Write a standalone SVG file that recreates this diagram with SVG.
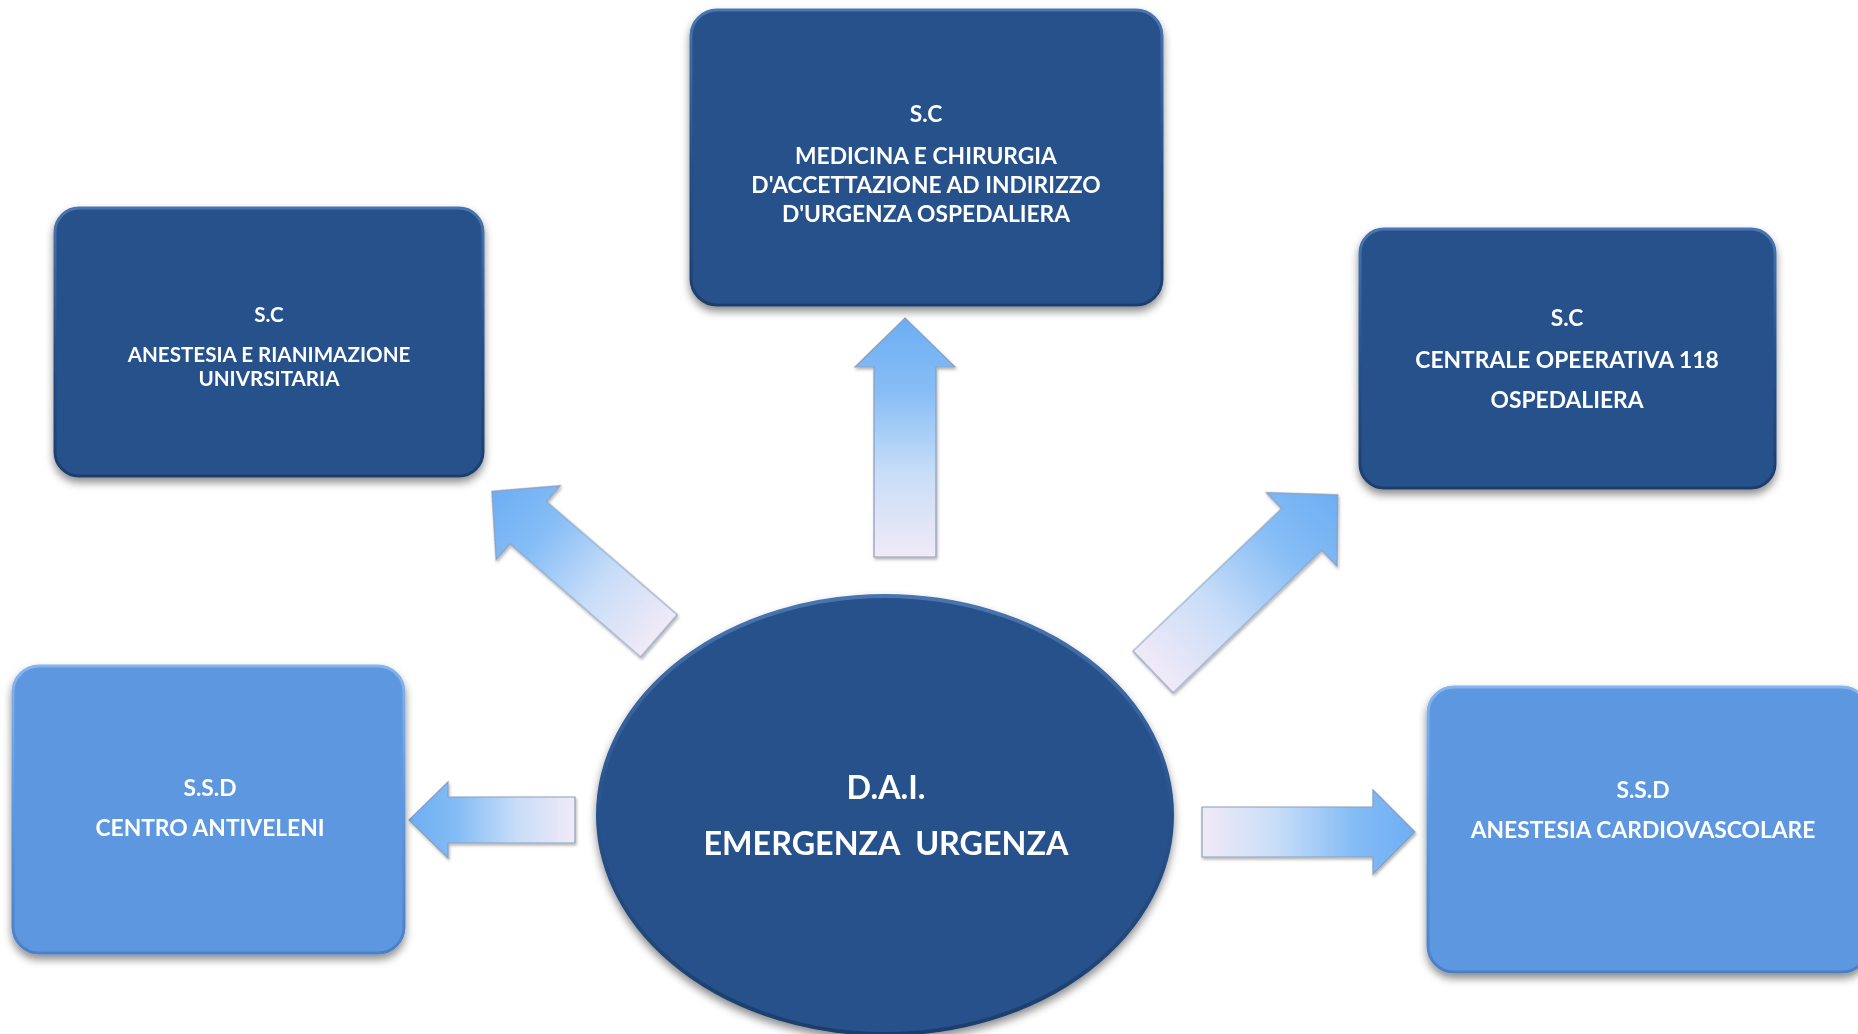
<svg xmlns="http://www.w3.org/2000/svg" width="1858" height="1034" viewBox="0 0 1858 1034">
<defs>
<filter id="sh" x="-10%" y="-10%" width="120%" height="130%">
<feDropShadow dx="0" dy="5" stdDeviation="4" flood-color="#000" flood-opacity="0.45"/>
</filter>
<filter id="ash" x="-20%" y="-20%" width="140%" height="140%">
<feDropShadow dx="1" dy="2" stdDeviation="1.5" flood-color="#000" flood-opacity="0.3"/>
</filter>
<linearGradient id="ag" x1="0" y1="0" x2="1" y2="0">
<stop offset="0" stop-color="#f1eaf7"/>
<stop offset="0.35" stop-color="#c8ddf8"/>
<stop offset="0.7" stop-color="#86bdf6"/>
<stop offset="1" stop-color="#6caef3"/>
</linearGradient>
<linearGradient id="rimD" x1="0" y1="0" x2="0" y2="1">
<stop offset="0" stop-color="#4a76b0"/>
<stop offset="0.5" stop-color="#27518a"/>
<stop offset="1" stop-color="#1d3e6c"/>
</linearGradient>
<linearGradient id="rimL" x1="0" y1="0" x2="0" y2="1">
<stop offset="0" stop-color="#86b4ec"/>
<stop offset="0.5" stop-color="#5d97df"/>
<stop offset="1" stop-color="#4a80c6"/>
</linearGradient>
</defs>
<style>
.dark{fill:#27518a;stroke:url(#rimD);stroke-width:3}
.light{fill:#5d97df;stroke:url(#rimL);stroke-width:3}
.t{font-family:Lato,"Open Sans","Liberation Sans",sans-serif;font-weight:700;fill:#ffffff;text-anchor:middle;font-size:22.8px}
.s{font-size:20.6px}
.big{font-size:32.3px}
.arrow{fill:url(#ag);stroke:#8a9fbc;stroke-width:1.2;stroke-linejoin:miter}
</style>
<rect width="1858" height="1034" fill="#ffffff"/>

<g id="connectors" filter="url(#ash)">
<path class="arrow" transform="translate(905,557) rotate(-90)" d="M0,-31 L190,-31 L190,-50 L239,0 L190,50 L190,31 L0,31 Z"/>
<path class="arrow" transform="translate(659,636) rotate(220.9)" d="M0,-28 L173,-28 L173,-49 L221,0 L173,49 L173,28 L0,28 Z"/>
<path class="arrow" transform="translate(1153,672) rotate(-43.8)" d="M0,-29 L206,-29 L206,-51 L256,0 L206,51 L206,29 L0,29 Z"/>
<path class="arrow" transform="translate(575,820) rotate(180)" d="M0,-23 L127,-23 L127,-38 L166,0 L127,38 L127,23 L0,23 Z"/>
<path class="arrow" transform="translate(1202,832)" d="M0,-25 L171,-25 L171,-42 L213,0 L171,42 L171,25 L0,25 Z"/>
</g>

<g id="node-top">
<rect class="dark" x="691" y="10" width="471" height="295" rx="26" filter="url(#sh)"/>
<text class="t" x="926" y="122">S.C</text>
<text class="t" x="926" y="163.5">MEDICINA E CHIRURGIA</text>
<text class="t" x="926" y="192.5">D'ACCETTAZIONE AD INDIRIZZO</text>
<text class="t" x="926" y="221.5">D'URGENZA OSPEDALIERA</text>
</g>

<g id="node-anestesia">
<rect class="dark" x="55" y="208" width="428" height="268" rx="24" filter="url(#sh)"/>
<text class="t s" x="269" y="322">S.C</text>
<text class="t s" x="269" y="362">ANESTESIA E RIANIMAZIONE</text>
<text class="t s" x="269" y="386">UNIVRSITARIA</text>
</g>

<g id="node-centrale">
<rect class="dark" x="1360" y="229" width="415" height="259" rx="24" filter="url(#sh)"/>
<text class="t" x="1567" y="325.5">S.C</text>
<text class="t" x="1567" y="367.5">CENTRALE OPEERATIVA 118</text>
<text class="t" x="1567" y="408">OSPEDALIERA</text>
</g>

<g id="node-antiveleni">
<rect class="light" x="13" y="666" width="391" height="287" rx="26" filter="url(#sh)"/>
<text class="t" x="210" y="796">S.S.D</text>
<text class="t" x="210" y="836">CENTRO ANTIVELENI</text>
</g>

<g id="node-cardio">
<rect class="light" x="1428" y="687" width="440" height="285" rx="26" filter="url(#sh)"/>
<text class="t" x="1643" y="797.5">S.S.D</text>
<text class="t" x="1643" y="837.5">ANESTESIA CARDIOVASCOLARE</text>
</g>

<g id="node-dai">
<ellipse cx="885" cy="815" rx="287" ry="219" fill="#27518a" stroke="url(#rimD)" stroke-width="4" filter="url(#sh)"/>
<text class="t big" x="886" y="799">D.A.I.</text>
<text class="t big" x="886" y="855" xml:space="preserve">EMERGENZA  URGENZA</text>
</g>
</svg>
